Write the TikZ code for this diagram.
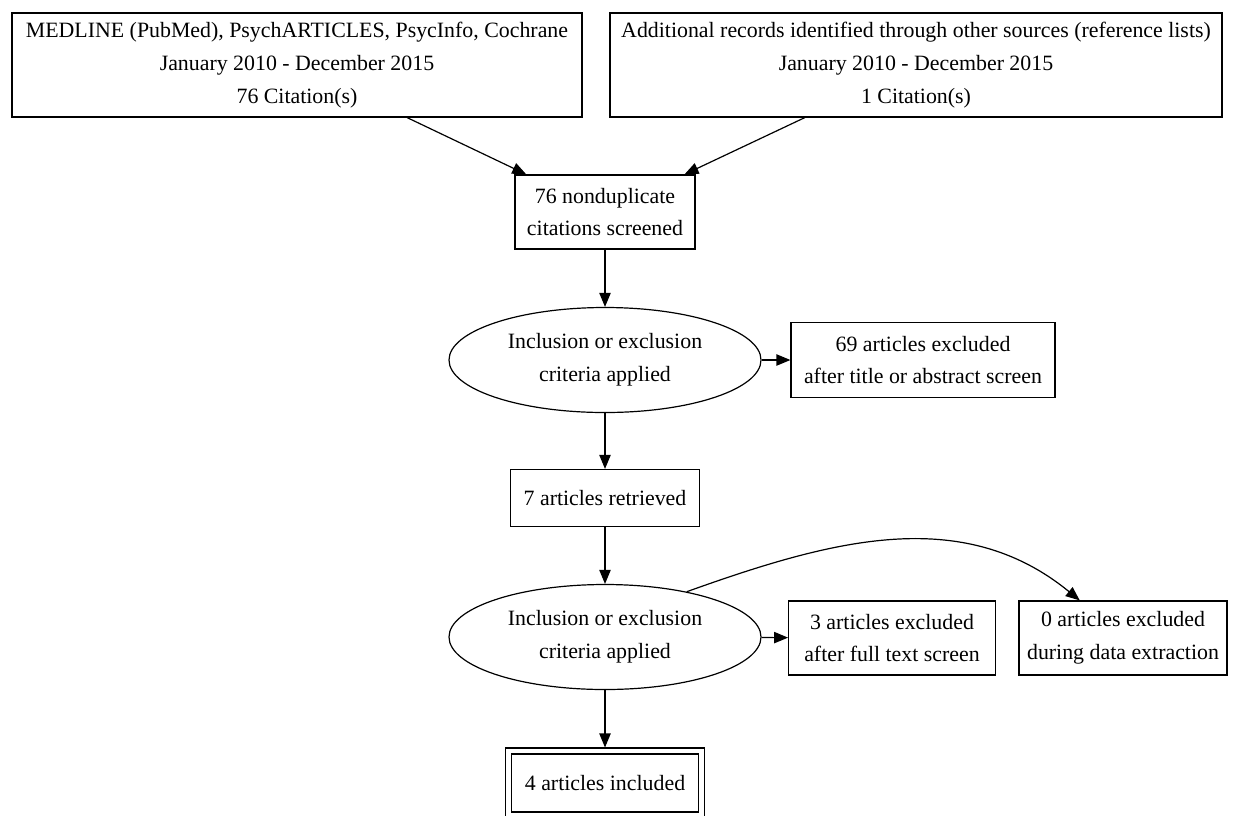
\documentclass[tikz,border=0pt]{standalone}
\usepackage{fontspec}
\setmainfont{Liberation Serif}
\usetikzlibrary{arrows.meta, positioning, shapes.geometric}

\begin{document}
\begin{tikzpicture}[
  x=0.75pt, y=-0.75pt,
  box/.style={draw, line width=0.9pt, minimum height=55.5pt, inner sep=0pt, align=center, font=\fontsize{16.4}{24.5}\selectfont},
  crit/.style={draw, ellipse, line width=0.9pt, minimum width=234pt, minimum height=78.75pt, inner sep=0pt, align=center, font=\fontsize{16.4}{24.5}\selectfont},
  arr/.style={-{Triangle[length=10.5pt, width=8.5pt]}, line width=0.9pt}
]
  \clip (0,0) rectangle (1234,815);

  % sources
  \node[box, minimum width=427.5pt, minimum height=78pt] (medline) at (297,65) {MEDLINE (PubMed), PsychARTICLES, PsycInfo, Cochrane\\January 2010 - December 2015\\76 Citation(s)};
  \node[box, minimum width=459pt, minimum height=78pt] (other) at (916,65) {Additional records identified through other sources (reference lists)\\January 2010 - December 2015\\1 Citation(s)};

  \node[box, minimum width=135pt] (nondup) at (605,212) {76 nonduplicate\\citations screened};

  % first screen
  \node[crit] (crit1) at (605,360) {Inclusion or exclusion\\criteria applied};
  \node[box, minimum width=198pt, minimum height=56.25pt] (excl1) at (923,360) {69 articles excluded\\after title or abstract screen};

  \node[box, minimum width=141.75pt, minimum height=42.75pt] (retr) at (605,498) {7 articles retrieved};

  % second screen
  \node[crit] (crit2) at (605,637) {Inclusion or exclusion\\criteria applied};
  \node[box, minimum width=155pt] (excl2) at (892,638) {3 articles excluded\\after full text screen};
  \node[box, minimum width=156pt] (excl3) at (1123,638) {0 articles excluded\\during data extraction};

  \node[box, double, double distance=3.5pt, minimum width=145pt, minimum height=48pt] (incl) at (605,783) {4 articles included};

  \draw[arr] (medline) -- (nondup);
  \draw[arr] (other) -- (nondup);
  \draw[arr] (nondup) -- (crit1);
  \draw[arr] (crit1) -- (excl1);
  \draw[arr] (crit1) -- (retr);
  \draw[arr] (retr) -- (crit2);
  \draw[arr] (crit2) -- (excl2);
  \draw[arr] (crit2.29) .. controls (831,540) and (962,504) .. (excl3.139);
  \draw[arr, shorten >=2.2pt] (crit2) -- (incl);
\end{tikzpicture}
\end{document}
